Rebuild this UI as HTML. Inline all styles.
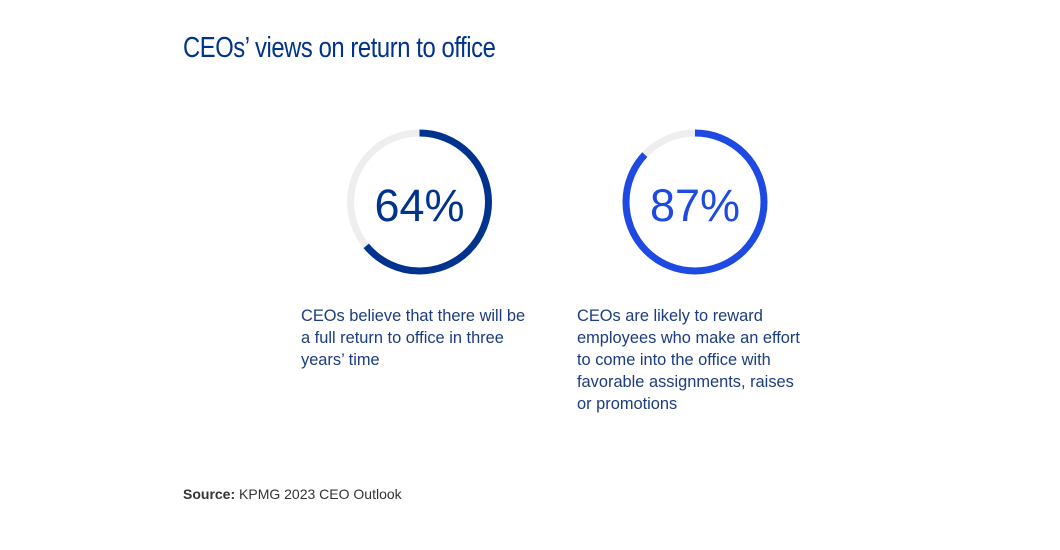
<!DOCTYPE html>
<html><head><meta charset="utf-8"><style>
body{margin:0;width:1060px;height:550px;background:#fff;position:relative;font-family:"Liberation Sans",sans-serif;overflow:hidden}
.t{position:absolute;left:183px;top:32px;font-family:"Liberation Sans",sans-serif;font-size:29px;color:#00338d;white-space:nowrap;letter-spacing:-0.5px;transform:scaleX(0.82);transform-origin:0 0}
.d{position:absolute;font-size:16.4px;line-height:22px;color:#1b3c7e;white-space:nowrap}
.s{position:absolute;left:183px;top:486px;font-size:14px;color:#333}
svg{position:absolute;left:0;top:0}
</style></head><body>
<div class="t">CEOs’ views on return to office</div>
<svg width="1060" height="550">
<circle cx="419.5" cy="202" r="69" fill="none" stroke="#eeeeee" stroke-width="7"/>
<circle cx="419.5" cy="202" r="69" fill="none" stroke="#00338d" stroke-width="7" stroke-dasharray="277.5 500" transform="rotate(-90 419.5 202)"/>
<circle cx="695" cy="202" r="69" fill="none" stroke="#eeeeee" stroke-width="7"/>
<circle cx="695" cy="202" r="69" fill="none" stroke="#1e49e2" stroke-width="7" stroke-dasharray="377.2 500" transform="rotate(-90 695 202)"/>
<text x="419.5" y="221" text-anchor="middle" font-family="Liberation Sans, sans-serif" font-size="45" fill="#00338d">64%</text>
<text x="695" y="221" text-anchor="middle" font-family="Liberation Sans, sans-serif" font-size="45" fill="#1e49e2">87%</text>
</svg>
<div class="d" style="left:301px;top:305px">CEOs believe that there will be<br>a full return to office in three<br>years’ time</div>
<div class="d" style="left:577px;top:305px">CEOs are likely to reward<br>employees who make an effort<br>to come into the office with<br>favorable assignments, raises<br>or promotions</div>
<div class="s"><b>Source:</b> KPMG 2023 CEO Outlook</div>
</body></html>
